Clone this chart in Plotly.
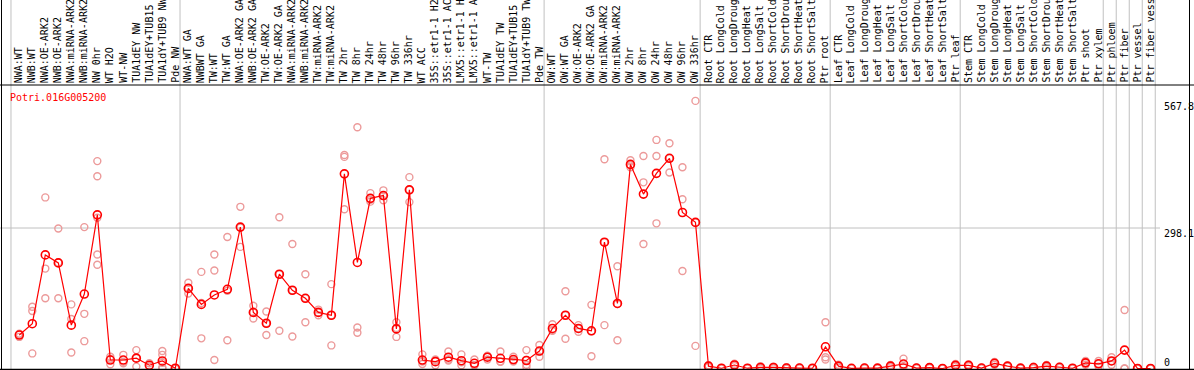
import plotly.graph_objects as go

gene = "Potri.016G005200"

samples = [
    "NWA:WT", "NWB:WT", "NWA:OE-ARK2", "NWB:OE-ARK2", "NWA:miRNA-ARK2", "NWB:miRNA-ARK2",
    "NW 0hr", "WT H2O", "WT-NW", "TUA1dEY NW", "TUA1dEY+TUB15 NW", "TUA1dY+TUB9 NW", "Pde NW",
    "NWA:WT GA", "NWBWT GA", "TW:WT", "TW:WT GA", "NWA:OE-ARK2 GA", "NWB:OE-ARK2 GA",
    "TW:OE-ARK2", "TW:OE-ARK2 GA", "NWA:miRNA-ARK2", "NWB:miRNA-ARK2", "TW:miRNA-ARK2",
    "TW:miRNA-ARK2", "TW 2hr", "TW 8hr", "TW 24hr", "TW 48hr", "TW 96hr", "TW 336hr",
    "WT ACC", "35S::etr1-1 H2O", "35S::etr1-1 ACC", "LMX5::etr1-1 H2O", "LMX5::etr1-1 ACC",
    "WT-TW", "TUA1dEY TW", "TUA1dEY+TUB15 TW", "TUA1dY+TUB9 TW", "Pde TW",
    "OW:WT", "OW:WT GA", "OW:OE-ARK2", "OW:OE-ARK2 GA", "OW:miRNA-ARK2", "OW:miRNA-ARK2",
    "OW 2hr", "OW 8hr", "OW 24hr", "OW 48hr", "OW 96hr", "OW 336hr",
    "Root CTR", "Root LongCold", "Root LongDrought", "Root LongHeat", "Root LongSalt",
    "Root ShortCold", "Root ShortDrought", "Root ShortHeat", "Root ShortSalt", "Ptr root",
    "Leaf CTR", "Leaf LongCold", "Leaf LongDrought", "Leaf LongHeat", "Leaf LongSalt",
    "Leaf ShortCold", "Leaf ShortDrought", "Leaf ShortHeat", "Leaf ShortSalt", "Ptr leaf",
    "Stem CTR", "Stem LongCold", "Stem LongDrought", "Stem LongHeat", "Stem LongSalt",
    "Stem ShortCold", "Stem ShortDrought", "Stem ShortHeat", "Stem ShortSalt", "Ptr shoot",
    "Ptr xylem", "Ptr phloem", "Ptr fiber", "Ptr vessel", "Ptr fiber vessel",
]

means = [
    71, 95, 241, 224, 92, 158, 326, 18, 18, 22, 7, 16, 0.5,
    170, 136, 156, 168, 300, 119, 96, 200, 166, 149, 119, 113, 413, 225, 361, 367, 84, 379,
    18, 14.5, 24, 16.6, 11, 24, 21.6, 19, 17, 37,
    85, 113, 85, 80, 268, 138, 433, 370, 414, 446, 331, 310,
    5, 0.5, 7.4, 0.6, 2.2, 2.2, 1, 1, 0.5, 46,
    5, 0.4, 1, 0.8, 5, 9.5, 1, 1.8, 0, 6.7,
    6.7, 1, 11, 5, 0.8, 2, 5, 2.5, 0.5, 12,
    10, 16, 39, 0, 0,
]

replicates = [
    [74, 72, 67], [131, 122, 32], [363, 212, 149], [297, 225, 149], [136, 105, 34],
    [300, 116, 58], [440, 408, 320, 242, 220], [25, 20, 9], [29, 14, 11], [39, 22, 4],
    [11, 5, 4], [37, 29, 12, 2, 0], [1, 0, 0.5],
    [182, 170, 159], [205, 139, 64], [242, 208, 18], [279, 165, 60], [343, 299, 258],
    [133, 119, 106], [121, 96, 71], [321, 200, 80], [264, 166, 68], [200, 149, 98],
    [125, 119, 113], [179, 113, 49], [453, 449, 338], [512, 87, 76], [372, 358, 354],
    [378, 366, 357], [98, 86, 67], [406, 379, 353],
    [30, 15, 9.5], [19, 17, 7], [36, 19, 17], [30, 13, 7], [19, 7, 7], [27, 25, 19],
    [36, 15, 14], [25, 17, 15], [39, 18, 8, 3], [50, 36, 25],
    [94, 81, 80], [164, 113, 63], [92, 85, 78], [135, 79, 26], [444, 268, 92],
    [217, 137, 60], [442, 431, 427], [451, 395, 264], [485, 451, 308], [478, 446, 416],
    [427, 359, 207], [567.8, 310, 48],
    [7, 5, 3], [1, 0.5, 0], [10, 7, 5], [1, 0.5, 0.3], [5, 1, 0.6], [4, 2, 0.6],
    [3, 0, 0], [1.5, 1, 0.5], [0.8, 0.5, 0.2], [98, 24, 19],
    [8, 5, 2], [0.6, 0.4, 0.2], [1.5, 1, 0.5], [1, 0.8, 0.6], [7.5, 5, 2.5], [21, 5, 3],
    [1.5, 1, 0.5], [3, 1.5, 1], [0, 0, 0], [9.5, 6.5, 4],
    [8.5, 7, 4.5], [1.5, 1, 0.5], [14, 11, 8], [6, 5, 4], [1, 0.8, 0.6], [4, 1.5, 0.5],
    [7.5, 5, 2.5], [3.8, 2.2, 1.5], [1, 0.4, 0.1], [16, 12, 8],
    [16, 10, 4], [24, 16, 8], [124, 0, 0], [0, 0, 0], [0, 0, 0],
]

group_sizes = [13, 28, 12, 10, 10, 11, 1, 1, 1, 1]

ytick_vals = [0, 298.1, 567.8]
ytick_text = ["0", "298.1", "567.8"]

# ---------------- layout geometry ----------------
W, H = 1194, 370
TOP, BOTTOM = 85, 369
PH = BOTTOM - TOP
X0PX, DX = 19.3, 13.003
xr = [1 - X0PX / DX, 1 + (W - X0PX) / DX]
K = 298.1 / (368.5 - 228)
yr = [-(BOTTOM - 368.5) * K, (368.5 - TOP) * K]

FONT = "DejaVu Sans Mono"
GRID = "#c0c0c0"
RED = "#ff0000"
PALE = "#ec9a9a"


def xpaper(pos):
    return (pos - xr[0]) / (xr[1] - xr[0])


def ypaper(px):
    return (BOTTOM - px) / PH


xs = list(range(1, len(samples) + 1))

rep_x, rep_y = [], []
for i, reps in zip(xs, replicates):
    for v in reps:
        rep_x.append(i)
        rep_y.append(v)

fig = go.Figure()
fig.add_trace(go.Scatter(
    x=rep_x, y=rep_y, mode="markers",
    marker=dict(symbol="circle-open", size=7, color=PALE, line=dict(width=1.4, color=PALE)),
    hoverinfo="skip", showlegend=False, cliponaxis=False,
))
fig.add_trace(go.Scatter(
    x=xs, y=means, mode="lines+markers",
    line=dict(color=RED, width=1.2),
    marker=dict(symbol="circle-open", size=8, color=RED, line=dict(width=1.6, color=RED)),
    showlegend=False, cliponaxis=False,
))

shapes = []
# group separators
bounds = [0]
for g in group_sizes:
    bounds.append(bounds[-1] + g)
for b in bounds:
    px = xpaper(b + 0.36)
    shapes.append(dict(type="line", xref="paper", yref="paper", x0=px, x1=px,
                       y0=ypaper(H + 1), y1=ypaper(-1), layer="below",
                       line=dict(color=GRID, width=1)))
# horizontal grid at middle tick
shapes.append(dict(type="line", xref="paper", yref="y", x0=0, x1=1160 / W,
                   y0=ytick_vals[1], y1=ytick_vals[1], layer="below",
                   line=dict(color=GRID, width=1)))
# black frame lines
shapes.append(dict(type="line", xref="paper", yref="paper", x0=0, x1=1,
                   y0=1, y1=1, line=dict(color="black", width=1)))
shapes.append(dict(type="line", xref="paper", yref="paper", x0=0, x1=1,
                   y0=ypaper(369.5), y1=ypaper(369.5), line=dict(color="black", width=1.5)))
for px in (1.5, 1189.5):
    shapes.append(dict(type="line", xref="paper", yref="paper", x0=px / W, x1=px / W,
                       y0=ypaper(H + 1), y1=ypaper(-1), line=dict(color="black", width=1)))

annotations = []
for i, name in zip(xs, samples):
    annotations.append(dict(
        x=i, y=ypaper(84), xref="x", yref="paper", text=name, showarrow=False,
        textangle=-90, xanchor="center", yanchor="bottom",
        font=dict(family=FONT, size=10, color="black"), borderpad=0,
    ))
annotations.append(dict(
    x=8 / W, y=ypaper(97), xref="paper", yref="paper", text=gene, showarrow=False,
    xanchor="left", yanchor="middle", font=dict(family=FONT, size=10, color=RED),
))
yshifts = [6, -5, -6]
for v, t, s in zip(ytick_vals, ytick_text, yshifts):
    annotations.append(dict(
        x=1162 / W, y=v, xref="paper", yref="y", text=t, showarrow=False,
        xanchor="left", yanchor="middle", yshift=s,
        font=dict(family=FONT, size=10, color="black"),
    ))

fig.update_layout(
    width=W, height=H,
    margin=dict(l=0, r=0, t=TOP, b=H - BOTTOM, pad=0),
    paper_bgcolor="white", plot_bgcolor="white",
    xaxis=dict(range=xr, showgrid=False, zeroline=False, showticklabels=False,
               ticks="", showline=False, fixedrange=True),
    yaxis=dict(range=yr, showgrid=False, zeroline=False, showticklabels=False,
               ticks="", showline=False, fixedrange=True),
    shapes=shapes, annotations=annotations,
    hovermode=False,
)

fig.write_html(
    "out.html",
    config={"displayModeBar": False},
    post_script="document.body.style.margin='0';document.body.style.overflow='hidden';",
)
